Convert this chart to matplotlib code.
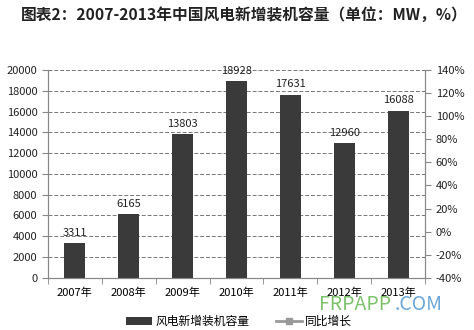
import matplotlib
matplotlib.use("Agg")
import matplotlib.pyplot as plt
from matplotlib.lines import Line2D
from matplotlib.patches import Patch
import numpy as np

plt.rcParams['font.family'] = ['Noto Sans CJK SC', 'DejaVu Sans']

years = ['2007年', '2008年', '2009年', '2010年', '2011年', '2012年', '2013年']
capacity = [3311, 6165, 13803, 18928, 17631, 12960, 16088]

fig = plt.figure(figsize=(4.74, 3.30), dpi=100)
ax = fig.add_axes([0.101, 0.158, 0.796, 0.630])

x = np.arange(len(years))
ax.bar(x, capacity, width=0.39, color='#3a3a3a', zorder=3)
for xi, v in zip(x, capacity):
    ax.text(xi, v + 500, str(v), ha='center', va='bottom', fontsize=8, color='#222222')

ax.set_xlim(-0.5, len(years) - 0.5)
ax.set_ylim(0, 20000)
ax.set_yticks(range(0, 20001, 2000))
ax.yaxis.grid(True, linestyle=(0, (4, 2)), color='#777777', linewidth=0.7, zorder=0)
ax.set_xticks(x)
ax.set_xticklabels(years)
ax.set_xticks(np.arange(-0.5, len(years)), minor=True)
ax.tick_params(axis='x', which='major', length=0, labelsize=8, pad=7)
ax.tick_params(axis='x', which='minor', length=4, color='#888888')
ax.tick_params(axis='y', labelsize=8, length=4, color='#888888', colors='#222222')
for side in ['left', 'right', 'bottom']:
    ax.spines[side].set_color('#888888')
ax.spines['top'].set_visible(False)

ax2 = ax.twinx()
ax2.set_ylim(-0.4, 1.4)
ax2.set_yticks(np.arange(-0.4, 1.41, 0.2))
ax2.set_yticklabels([f'{int(round(t * 100))}%' for t in np.arange(-0.4, 1.41, 0.2)])
ax2.tick_params(axis='y', labelsize=8, length=4, color='#888888', colors='#222222')
for side in ['left', 'right', 'bottom']:
    ax2.spines[side].set_color('#888888')
ax2.spines['top'].set_visible(False)

fig.text(0.044, 0.955, '图表2：2007-2013年中国风电新增装机容量（单位：MW，%）',
         fontsize=11.3, fontweight='bold', ha='left', va='center', color='#222222')

handles = [Patch(facecolor='#3a3a3a'),
           Line2D([0], [0], color='#999999', lw=2, marker='s', markersize=5)]
fig.legend(handles, ['风电新增装机容量', '同比增长'], loc='center', bbox_to_anchor=(0.505, 0.025),
           ncol=2, frameon=False, fontsize=8.5, handlelength=2.2, columnspacing=2.2,
           handleheight=0.7, handletextpad=0.3)

fig.text(0.672, 0.076, 'FRPAPP', fontsize=14, color='#7dc36b', ha='left', va='center')
fig.text(0.832, 0.076, '.COM', fontsize=14, color='#6aa7d8', ha='left', va='center')

fig.savefig('out.png', dpi=100)
